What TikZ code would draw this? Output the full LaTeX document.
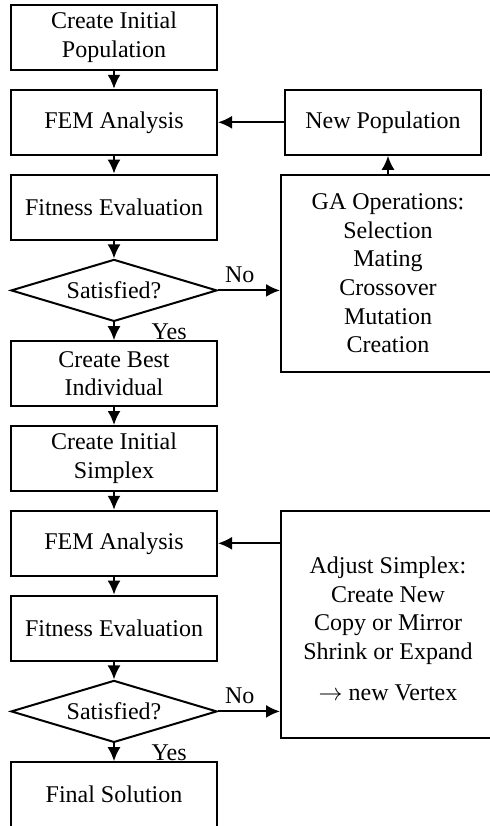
\documentclass[tikz,border=0pt]{standalone}
\usepackage{fontspec}
\setmainfont{Liberation Serif}
\usetikzlibrary{positioning,shapes.geometric,arrows.meta}

\begin{document}
\begin{tikzpicture}[node distance=8.9pt,
    font=\fontsize{12}{14.3}\selectfont,
    box/.style={draw, line width=1pt, rectangle, minimum width=103pt, minimum height=32.5pt, align=center, inner sep=2pt},
    decision/.style={draw, line width=1pt, diamond, aspect=3.3, minimum width=103pt, minimum height=31pt, inner sep=0pt},
    sidebox/.style={draw, line width=1pt, rectangle, minimum width=107pt, align=center},
    flow/.style={-{Latex[length=7pt,width=6.5pt]}, line width=1pt}]
    \useasboundingbox (0,0) rectangle (245pt,-413pt);
    \clip (0,0) rectangle (245pt,-413pt);

    % Main column
    \node (init) [box] at (57pt,-18.75pt) {Create Initial\\Population};
    \node (fem1) [box, below=of init] {FEM Analysis};
    \node (fit1) [box, below=of fem1] {Fitness Evaluation};
    \node (sat1) [decision, below=of fit1] {Satisfied?};
    \node (best) [box, below=of sat1] {Create Best\\Individual};
    \node (simplex) [box, below=of best] {Create Initial\\Simplex};
    \node (fem2) [box, below=of simplex] {FEM Analysis};
    \node (fit2) [box, below=of fem2] {Fitness Evaluation};
    \node (sat2) [decision, below=of fit2] {Satisfied?};
    \node (final) [box, below=of sat2] {Final Solution};

    % Side boxes
    \node (newpop) [box, minimum width=98pt, right=33pt of fem1] {New Population};
    \node (ga) [sidebox, minimum height=98.5pt, anchor=north west] at ([xshift=-2pt, yshift=-9pt]newpop.south west) {GA Operations:\\Selection\\Mating\\Crossover\\Mutation\\Creation};
    \node (adjust) [sidebox, minimum height=113.5pt, anchor=north west] at (ga.west |- fem2.north) {\rule{0pt}{13pt}Adjust Simplex:\\Create New\\Copy or Mirror\\Shrink or Expand\\[6.3pt]$\rightarrow$ new Vertex};

    % Arrows
    \draw[flow] (init) -- (fem1);
    \draw[flow] (fem1) -- (fit1);
    \draw[flow] (fit1) -- (sat1);
    \draw[flow] (sat1) -- node[right=15pt] {Yes} (best);
    \draw[flow] (best) -- (simplex);
    \draw[flow] (simplex) -- (fem2);
    \draw[flow] (fem2) -- (fit2);
    \draw[flow] (fit2) -- (sat2);
    \draw[flow] (sat2) -- node[right=15pt] {Yes} (final);

    % Loops with labels
    \draw[flow] (sat1) -- node[above, pos=0.35] {No} (sat1 -| ga.west);
    \draw[flow] (ga.north) -- (ga.north |- newpop.south);
    \draw[flow] (newpop) -- (fem1);
    \draw[flow] (sat2) -- node[above, pos=0.35] {No} (sat2 -| adjust.west);
    \draw[flow] (fem2 -| adjust.west) -- (fem2);
\end{tikzpicture}
\end{document}
